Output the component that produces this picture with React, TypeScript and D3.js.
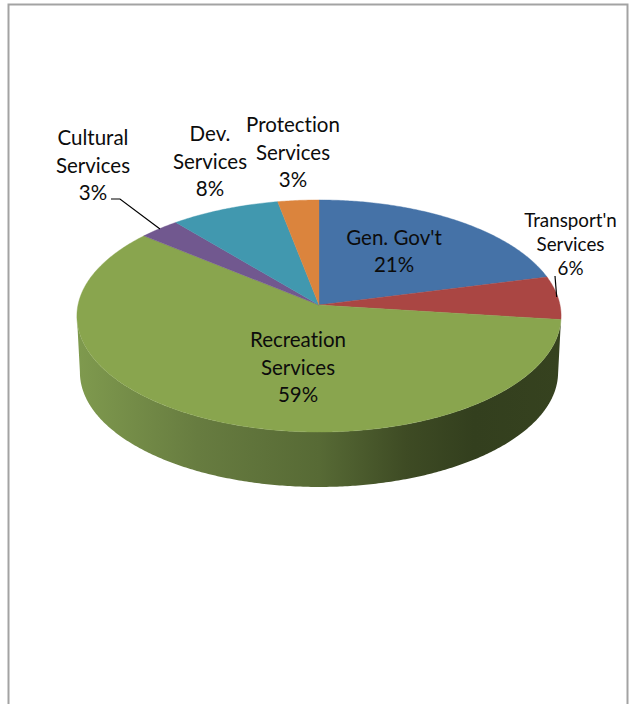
import React from "react";
import * as d3 from "d3";

// Budget share by service area, clockwise from twelve o'clock.
const serviceLines: string[][] = [
  ["Gen. Gov't"],
  ["Transport'n", "Services"],
  ["Recreation", "Services"],
  ["Cultural", "Services"],
  ["Dev.", "Services"],
  ["Protection", "Services"],
];
const shares = [21, 6, 59, 3, 8, 3];
const sliceColors = ["#4572a7", "#aa4643", "#89a54e", "#71588f", "#4198af", "#db843d"];

// Label placement: centre x, first baseline y, line spacing, font size.
const labelX = [394, 570.5, 298, 93, 210, 293];
const labelY = [245, 226.5, 347, 145, 141, 132];
const labelGap = [27, 24.3, 27.5, 27.5, 27.5, 27.5];
const labelSize = [20.5, 18.8, 20.5, 20.5, 20.5, 20.5];

const leaderLines: [number, number][][] = [
  [[111, 199], [120, 199], [160, 229]],
  [[555, 276], [556.7, 297]],
];

const WIDTH = 631;
const HEIGHT = 704;
const CX = 319;
const TOP_CY = 305;
const BOTTOM_CY = 361.5;
const TOP_R = 241;
const BOTTOM_R = 238;
const FORESHORTEN = 115 / 241;
const PERSPECTIVE = -0.0948;
const SILHOUETTE_LEFT = (264.6 * Math.PI) / 180;

// Tilted-disc projection: the rim is a true ellipse, while the apex sits above its centre.
function project(theta: number, r: number, cy: number): [number, number] {
  const x = Math.sin(theta);
  const y = -Math.cos(theta);
  const w = 1 + PERSPECTIVE * y;
  return [CX + (r * x) / w, cy + (r * FORESHORTEN * y) / w];
}

function arcPoints(a0: number, a1: number, r: number, cy: number): [number, number][] {
  const n = Math.max(2, Math.ceil(Math.abs(a1 - a0) / 0.01));
  return d3.range(n + 1).map((i) => project(a0 + ((a1 - a0) * i) / n, r, cy));
}

const line = d3.line();

export default function App() {
  const arcs = d3
    .pie<number>()
    .sort(null)
    .value((d) => d)(shares);

  const recreation = arcs[2];
  const sidePath =
    line([
      ...arcPoints(recreation.startAngle, SILHOUETTE_LEFT, TOP_R, TOP_CY),
      ...arcPoints(SILHOUETTE_LEFT, recreation.startAngle, BOTTOM_R, BOTTOM_CY),
    ]) + "Z";

  return (
    <svg
      width={WIDTH}
      height={HEIGHT}
      viewBox={`0 0 ${WIDTH} ${HEIGHT}`}
      style={{
        position: "absolute",
        left: 0,
        top: 0,
        display: "block",
        background: "#fff",
        fontVariantLigatures: "none",
      }}
      fontFamily="Lato, 'Open Sans', sans-serif"
    >
      <defs>
        <linearGradient id="rimShade" gradientUnits="userSpaceOnUse" x1={77} x2={561} y1={0} y2={0}>
          <stop offset="0" stopColor="#7f9a4e" />
          <stop offset="0.25" stopColor="#677c40" />
          <stop offset="0.5" stopColor="#576a35" />
          <stop offset="0.68" stopColor="#3e4b24" />
          <stop offset="0.82" stopColor="#333f1e" />
          <stop offset="1" stopColor="#36421f" />
        </linearGradient>
      </defs>

      {/* Chart frame, open at the bottom */}
      <path d={`M8.5 704V4.5H627.5V704`} fill="none" stroke="#a3a3a3" strokeWidth={2} />

      <path d={sidePath} fill="url(#rimShade)" />

      {arcs.map((arc, i) => (
        <path
          key={i}
          d={line([[CX, TOP_CY], ...arcPoints(arc.startAngle, arc.endAngle, TOP_R, TOP_CY)]) + "Z"}
          fill={sliceColors[i]}
          stroke={sliceColors[i]}
          strokeWidth={0.4}
        />
      ))}

      {leaderLines.map((pts, i) => (
        <path key={i} d={line(pts) ?? ""} fill="none" stroke="#000" strokeWidth={1.2} />
      ))}

      {serviceLines.map((lines, i) => (
        <text
          key={i}
          textAnchor="middle"
          fontSize={labelSize[i]}
          fill="#0c0c0c"
        >
          {[...lines, `${shares[i]}%`].map((t, j) => (
            <tspan key={j} x={labelX[i]} y={labelY[i] + j * labelGap[i]}>
              {t}
            </tspan>
          ))}
        </text>
      ))}
    </svg>
  );
}
